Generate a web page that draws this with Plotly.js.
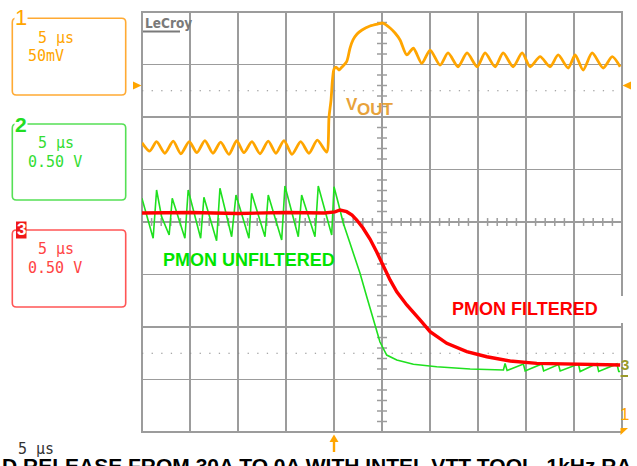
<!DOCTYPE html>
<html><head><meta charset="utf-8">
<script src="https://cdn.plot.ly/plotly-3.0.1.min.js"></script>
<style>html,body{margin:0;padding:0;background:#fff;}#chart{width:637px;height:466px;}</style>
</head><body><div id="chart"></div>
<script>
// ---- data (time in µs relative to trigger) ----
const voutTime = [-20.0, -19.2, -18.48, -17.62, -16.75, -15.95, -15.08, -14.28, -13.45, -12.61, -11.81, -10.94, -10.14, -9.38, -8.55, -7.71, -6.85, -6.05, -5.21, -4.38, -3.47, -2.61, -1.74, -0.76, -0.52, -0.31, -0.16, 0.0, 0.21, 0.52, 0.83, 1.32, 1.67, 1.98, 2.4, 2.92, 3.75, 4.59, 5.1, 5.84, 6.36, 6.88, 7.58, 8.27, 9.14, 10.01, 11.05, 11.88, 12.92, 13.86, 14.91, 15.74, 16.78, 17.62, 18.66, 19.6, 20.43, 21.47, 22.51, 23.35, 24.39, 25.12, 25.95, 26.89, 28.04, 28.98, 29.81];
const voutMv = [-55, -63, -54, -65, -53.5, -65.5, -54, -64.5, -53, -65, -54.5, -66, -53, -64.5, -54, -65.5, -53.5, -65, -53, -66, -54, -65, -52.5, -64, -30.5, -14.3, 4.8, 15.2, 17.1, 14.3, 17.1, 22.2, 35.2, 42.9, 48.6, 52.4, 56.2, 58.1, 59, 54.3, 49.5, 42.9, 28.6, 35, 20.6, 33.3, 19, 30.5, 17.4, 30.5, 17.4, 30.5, 17.4, 30.5, 17.4, 30.5, 17.4, 27, 17.4, 28.6, 16.2, 28.6, 14.3, 30.5, 16.2, 27, 17.4];

const pmonUnfTime = [-20.01, -18.84, -18.48, -17.96, -17.17, -16.85, -15.53, -15.19, -13.89, -13.55, -12.23, -11.88, -10.66, -10.21, -8.86, -8.58, -7.19, -6.85, -5.45, -5.11, -3.72, -3.37, -1.98, -1.64, -0.24, 0.0, 0.45, 0.97, 1.67, 2.71, 3.41, 4.27, 4.79, 5.49, 6.54, 8.27, 10.70, 14.18, 17.65, 17.82, 18.03, 19.73, 19.91, 21.65, 21.84, 23.38, 23.56, 25.46, 25.64, 27.38, 27.57, 29.47, 29.66, 29.81];
const pmonUnfV = [1.645, 1.264, 1.724, 1.470, 1.295, 1.645, 1.264, 1.724, 1.264, 1.654, 1.241, 1.740, 1.279, 1.676, 1.264, 1.692, 1.279, 1.676, 1.248, 1.762, 1.279, 1.676, 1.279, 1.762, 1.295, 1.755, 1.597, 1.407, 1.216, 0.930, 0.708, 0.438, 0.276, 0.152, 0.105, 0.064, 0.041, 0.019, 0.010, 0.071, 0.005, 0.067, 0.0, 0.067, 0.0, 0.062, 0.0, 0.067, -0.005, 0.071, -0.005, 0.067, -0.005, -0.005];

const pmonFilTime = [-20, -15, -10, -5, -1, 0.1, 0.63, 1.32, 1.88, 2.37, 3.02, 3.75, 4.45, 5.14, 5.84, 6.54, 7.58, 8.96, 10.01, 11.75, 13.83, 15.92, 18.35, 21.13, 24.6, 29.81];
const pmonFilV = [1.505, 1.51, 1.50, 1.51, 1.505, 1.515, 1.533, 1.517, 1.486, 1.438, 1.362, 1.257, 1.133, 0.993, 0.867, 0.755, 0.629, 0.486, 0.374, 0.264, 0.184, 0.136, 0.095, 0.073, 0.064, 0.057];

const channelNames = ['1', '2', '3'];
const timeDiv = '5 μs';
const voltDiv = ['50mV', '0.50 V', '0.50 V'];
const traceLabels = ['V', 'OUT', 'PMON UNFILTERED', 'PMON FILTERED'];
const footer = 'D RELEASE FROM 30A TO 0A WITH INTEL VTT TOOL, 1kHz RA';

// ---- colours ----
const ORANGE = '#FFA500', GREEN = '#1FE01F', RED = '#FF0000', GRID = '#9C9C9C';

// ---- geometry helpers (pixels -> paper) ----
const L = 142, T = 12, PW = 480, PH = 420;
const P = x => (x - L) / PW;
const Q = y => (T + PH - y) / PH;

function ann(text, x, y, size, color, family, xa, ya, extra) {
  return Object.assign({
    text: text, xref: 'paper', yref: 'paper', x: P(x), y: Q(y),
    xanchor: xa || 'center', yanchor: ya || 'middle', showarrow: false,
    font: {size: size, color: color, family: family || 'Liberation Sans, Arial, sans-serif'}
  }, extra || {});
}
function rr(x0, y0, x1, y1, r) {
  return `M${P(x0+r)},${Q(y0)} L${P(x1-r)},${Q(y0)} Q${P(x1)},${Q(y0)} ${P(x1)},${Q(y0+r)} ` +
    `L${P(x1)},${Q(y1-r)} Q${P(x1)},${Q(y1)} ${P(x1-r)},${Q(y1)} L${P(x0+r)},${Q(y1)} ` +
    `Q${P(x0)},${Q(y1)} ${P(x0)},${Q(y1-r)} L${P(x0)},${Q(y0+r)} Q${P(x0)},${Q(y0)} ${P(x0+r)},${Q(y0)} Z`;
}
function poly(pts) {
  return 'M' + pts.map(p => P(p[0]) + ',' + Q(p[1])).join(' L') + ' Z';
}

const shapes = [];
// minor ticks on the centre vertical line (x = 5 µs), 5 per division
for (let k = -20; k <= 20; k++) {
  if (k % 5 === 0) continue;
  shapes.push({type: 'line', xref: 'x', yref: 'y', x0: 5 - 0.52, x1: 5 + 0.52, y0: k / 5, y1: k / 5,
    line: {color: GRID, width: 1.5}, layer: 'between'});
}
// minor ticks on the centre horizontal line
for (let t = -20; t <= 30; t++) {
  if (t % 5 === 0) continue;
  shapes.push({type: 'line', xref: 'x', yref: 'y', x0: t, x1: t, y0: -0.075, y1: 0.075,
    line: {color: GRID, width: 1.5}, layer: 'between'});
}
// dotted reference lines
[2.5, -2.5].forEach(v => shapes.push({type: 'line', xref: 'x', yref: 'y', x0: -20, x1: 30, y0: v, y1: v,
  line: {color: '#8a8a8a', width: 1.2, dash: '1.3px,8.3px'}, layer: 'between'}));
// border
shapes.push({type: 'rect', xref: 'paper', yref: 'paper', x0: 0, x1: 1, y0: 0, y1: 1,
  line: {color: GRID, width: 2}, layer: 'between'});
// white label backgrounds
[[343, 93, 397, 120], [153, 248, 339, 277], [440, 296, 628, 323]].forEach(b =>
  shapes.push({type: 'rect', xref: 'paper', yref: 'paper', x0: P(b[0]), x1: P(b[2]), y0: Q(b[3]), y1: Q(b[1]),
    fillcolor: '#fff', line: {width: 0}, layer: 'between'}));

// channel boxes
shapes.push({type: 'path', xref: 'paper', yref: 'paper', path: rr(12.3, 18.3, 125.7, 95, 4), line: {color: '#FFAA33', width: 1.6}});
shapes.push({type: 'path', xref: 'paper', yref: 'paper', path: rr(12.3, 124, 125.7, 200, 4), line: {color: '#55E055', width: 1.6}});
shapes.push({type: 'path', xref: 'paper', yref: 'paper', path: rr(12.3, 230, 125.7, 307, 4), line: {color: '#FF5555', width: 1.6}});
// ch3 label box
shapes.push({type: 'rect', xref: 'paper', yref: 'paper', x0: P(16), x1: P(26.5), y0: Q(238.5), y1: Q(221.5), fillcolor: '#F01818', line: {width: 0}});
// level markers
shapes.push({type: 'path', xref: 'paper', yref: 'paper', path: poly([[133, 81.5], [141.5, 85.5], [133, 89.5]]), fillcolor: ORANGE, line: {width: 0}});
shapes.push({type: 'path', xref: 'paper', yref: 'paper', path: poly([[622.5, 85.5], [631, 81.5], [631, 89.5]]), fillcolor: ORANGE, line: {width: 0}});
// trigger arrow
shapes.push({type: 'path', xref: 'paper', yref: 'paper', path: poly([[329.5, 442], [334, 434.5], [338.5, 442]]), fillcolor: ORANGE, line: {width: 0}});
shapes.push({type: 'rect', xref: 'paper', yref: 'paper', x0: P(332.8), x1: P(335.2), y0: Q(452), y1: Q(441), fillcolor: ORANGE, line: {width: 0}});
// bottom-right ch1 marker
shapes.push({type: 'path', xref: 'paper', yref: 'paper', path: poly([[620.5, 428], [628, 428], [620.5, 435]]), fillcolor: ORANGE, line: {width: 0}});
// ch3 underline right
shapes.push({type: 'line', xref: 'paper', yref: 'paper', x0: P(620.5), x1: P(628), y0: Q(376), y1: Q(376), line: {color: '#9A9A2A', width: 2}});
// LeCroy underline
shapes.push({type: 'line', xref: 'paper', yref: 'paper', x0: P(143), x1: P(180), y0: Q(31.5), y1: Q(31.5), line: {color: '#7a7a7a', width: 2.2}});

const MONO = 'DejaVu Sans Mono, monospace';
const annotations = [
  ann('<b>LeCroy</b>', 142.5, 23, 13.5, '#7a7a7a', 'DejaVu Sans Condensed, DejaVu Sans, sans-serif', 'left'),
  ann('<b>' + traceLabels[0] + '</b>', 351.5, 104, 17, '#E8A23A'),
  ann('<b>' + traceLabels[1] + '</b>', 375.5, 109.5, 17, '#E8A23A'),
  ann('<b>' + traceLabels[2] + '</b>', 248.7, 260, 18, '#00E400'),
  ann('<b>' + traceLabels[3] + '</b>', 525, 308.5, 18, RED),
  // channel boxes
  ann(channelNames[0], 21, 18, 22, ORANGE, null, 'center', 'middle', {bgcolor: '#fff', borderpad: 0}),
  ann(timeDiv, 35.5, 37.5, 15, ORANGE, MONO, 'left'),
  ann(voltDiv[0], 25.5, 56, 15, ORANGE, MONO, 'left'),
  ann('<b>' + channelNames[1] + '</b>', 21, 124, 21, '#22DD22', null, 'center', 'middle', {bgcolor: '#fff', borderpad: 0}),
  ann(timeDiv, 35.5, 142.5, 15, '#33DD33', MONO, 'left'),
  ann(voltDiv[1], 25.5, 162.5, 15, '#33DD33', MONO, 'left'),
  ann('<b>' + channelNames[2] + '</b>', 21.3, 230, 17, '#fff'),
  ann(timeDiv, 35.5, 249, 15, '#FF4444', MONO, 'left'),
  ann(voltDiv[2], 25.5, 267.5, 15, '#FF4444', MONO, 'left'),
  // bottom / right markers
  ann(timeDiv, 15.5, 448.5, 15, '#333', MONO, 'left'),
  ann(channelNames[0], 624.5, 414, 17, ORANGE),
  ann('<b>' + channelNames[2] + '</b>', 625, 364, 15, '#9A9A2A'),
  ann('<b>' + footer + '</b>', 1, 453, 21, '#000', null, 'left', 'top', {borderpad: 0})
];

const traces = [
  {x: voutTime, y: voutMv, yaxis: 'y2', type: 'scatter', mode: 'lines', line: {color: ORANGE, width: 2.8, shape: 'spline', smoothing: 0.7}, hoverinfo: 'skip'},
  {x: pmonUnfTime, y: pmonUnfV, yaxis: 'y3', type: 'scatter', mode: 'lines', line: {color: GREEN, width: 1.6}, hoverinfo: 'skip'},
  {x: pmonFilTime, y: pmonFilV, yaxis: 'y3', type: 'scatter', mode: 'lines', line: {color: RED, width: 3.4}, hoverinfo: 'skip'}
];

const layout = {
  width: 637, height: 466,
  margin: {l: L, r: 637 - L - PW, t: T, b: 466 - T - PH, pad: 0},
  paper_bgcolor: '#fff', plot_bgcolor: '#fff', showlegend: false,
  xaxis: {range: [-20, 30], dtick: 5, tick0: 0, showgrid: true, gridcolor: GRID, gridwidth: 1.6,
    zeroline: false, showticklabels: false, ticks: '', showline: false, fixedrange: true},
  yaxis: {range: [-4, 4], dtick: 1, tick0: 0, showgrid: true, gridcolor: GRID, gridwidth: 1.6,
    zeroline: false, showticklabels: false, ticks: '', showline: false, fixedrange: true},
  yaxis2: {overlaying: 'y', range: [-330.48, 69.52], visible: false, showgrid: false, zeroline: false},
  yaxis3: {overlaying: 'y', range: [-0.581, 3.419], visible: false, showgrid: false, zeroline: false},
  shapes: shapes,
  annotations: annotations
};

Plotly.newPlot('chart', traces, layout, {staticPlot: true, displayModeBar: false});
</script>
</body></html>
